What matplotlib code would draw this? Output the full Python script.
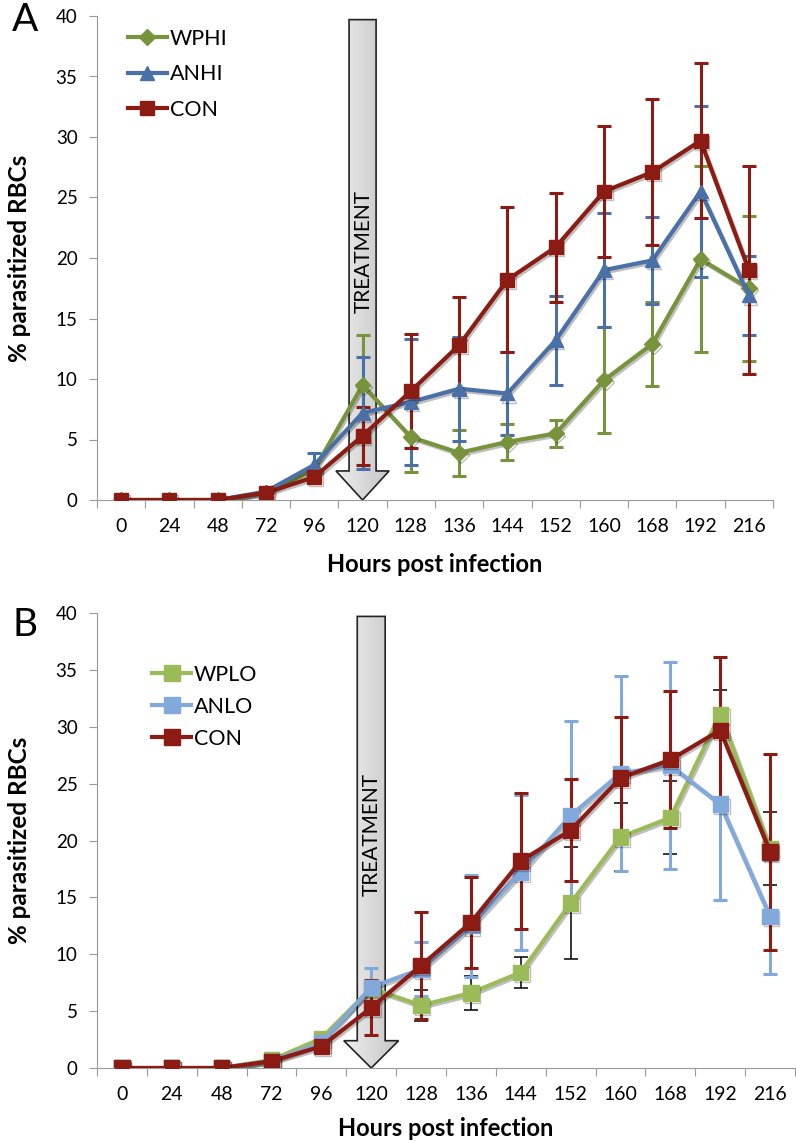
import numpy as np
import matplotlib
matplotlib.use("Agg")
import matplotlib.pyplot as plt
import matplotlib.patheffects as pe
from matplotlib.lines import Line2D
from matplotlib.patches import Polygon
from matplotlib.colors import LinearSegmentedColormap

plt.rcParams["font.family"] = ["Lato", "DejaVu Sans"]

# hours post infection (categorical axis)
hours = ["0", "24", "48", "72", "96", "120", "128", "136", "144", "152", "160", "168", "192", "216"]
treatment_hour = "120"

# panel A
wphi = [0, 0, 0, 0.6, 2.5, 9.5, 5.2, 3.9, 4.8, 5.5, 9.9, 12.9, 19.9, 17.5]
wphi_err = [0, 0, 0, 0, 0, 4.1, 2.9, 1.9, 1.5, 1.1, 4.4, 3.5, 7.7, 6.0]
anhi = [0, 0, 0, 0.7, 2.9, 7.2, 8.1, 9.2, 8.8, 13.2, 19.0, 19.8, 25.5, 16.9]
anhi_err = [0, 0, 0, 0, 1.0, 4.6, 5.2, 4.3, 3.4, 3.7, 4.7, 3.6, 7.1, 3.3]
con = [0, 0, 0, 0.6, 1.9, 5.3, 9.0, 12.8, 18.2, 20.9, 25.5, 27.1, 29.7, 19.0]
con_err = [0, 0, 0, 0, 0, 2.4, 4.7, 4.0, 6.0, 4.5, 5.4, 6.0, 6.4, 8.6]

# panel B
wplo = [0, 0, 0, 0.7, 2.6, 7.0, 5.5, 6.6, 8.4, 14.5, 20.3, 22.0, 31.1, 19.3]
wplo_err = [0, 0, 0, 0, 0, 0.5, 1.4, 1.5, 1.4, 4.9, 3.0, 3.2, 2.1, 3.2]
anlo = [0, 0, 0, 0.6, 2.2, 7.1, 8.7, 12.5, 17.2, 22.2, 25.9, 26.6, 23.2, 13.3]
anlo_err = [0, 0, 0, 0, 0, 1.7, 2.4, 4.5, 6.8, 8.3, 8.6, 9.1, 8.4, 5.0]

GREEN_DK = "#77933C"
BLUE_DK = "#4A70A8"
RED = "#8C1C13"
GREEN_LT = "#9BBB59"
BLUE_LT = "#82A9DC"

W, H = 796, 1143
shadow = [pe.SimpleLineShadow(offset=(1.2, -1.5), shadow_color="k", alpha=0.25), pe.Normal()]


def draw_series(ax, y, err, color, marker, label, ms=10, ecolor=None, elw=2.2):
    x = np.arange(len(hours))
    line = ax.errorbar(x, y, yerr=err, color=color, marker=marker, markersize=ms,
                       lw=3, elinewidth=elw, capsize=5, capthick=elw,
                       ecolor=ecolor or color, zorder=3)
    line[0].set_path_effects(shadow)
    return Line2D([], [], color=color, marker=marker, markersize=ms, lw=3, label=label)


def draw_treatment(ax, top):
    xc = hours.index(treatment_hour)
    sw, hw, hb = 0.28, 0.55, 2.4
    pts = [(xc - sw, top), (xc + sw, top), (xc + sw, hb), (xc + hw, hb), (xc, 0),
           (xc - hw, hb), (xc - sw, hb)]
    poly = Polygon(pts, closed=True, facecolor="none", edgecolor="#222222", lw=1.2, zorder=2)
    ax.add_patch(poly)
    cmap = LinearSegmentedColormap.from_list("g", ["#eeeeee", "#d9d9d9", "#c4c4c4"])
    im = ax.imshow(np.linspace(0, 1, 256).reshape(1, -1), extent=[xc - hw, xc + hw, 0, top],
                   cmap=cmap, aspect="auto", zorder=1.5)
    im.set_clip_path(poly)
    ax.text(xc + 0.02, 20.5, "TREATMENT", rotation=90, ha="center", va="center",
            fontsize=15, zorder=2.5)


def style_axes(ax, ylabel_x, xlabel_y):
    ax.set_xlim(-0.5, len(hours) - 0.5)
    ax.set_ylim(0, 40)
    ax.set_yticks(range(0, 41, 5))
    ax.set_xticks(np.arange(len(hours) + 1) - 0.5)
    ax.set_xticklabels([])
    ax.set_xticks(np.arange(len(hours)), minor=True)
    ax.set_xticklabels(hours, minor=True)
    ax.tick_params(axis="x", which="major", length=6, color="#999999", direction="out")
    ax.tick_params(axis="x", which="minor", length=0, pad=13, labelsize=14)
    ax.tick_params(axis="y", length=6, color="#999999", pad=8, labelsize=13.5)
    for s in ("top", "right"):
        ax.spines[s].set_visible(False)
    for s in ("left", "bottom"):
        ax.spines[s].set_color("#999999")
    ax.set_ylabel("% parasitized RBCs", fontsize=17.5, fontweight="bold")
    ax.yaxis.set_label_coords(ylabel_x, 0.5)
    ax.set_xlabel("Hours post infection", fontsize=17, fontweight="bold")
    ax.xaxis.set_label_coords(0.5, xlabel_y)
    ax.xaxis.label.set_va("center")


def add_legend(ax, handles, anchor, spacing):
    ax.legend(handles=handles, loc="upper left", bbox_to_anchor=anchor, frameon=False,
              fontsize=15.5, handlelength=1.8, handletextpad=0.15, labelspacing=spacing,
              borderpad=0, borderaxespad=0)


fig = plt.figure(figsize=(W / 100, H / 100), dpi=100)

# panel A: y=40 at 16 px, y=0 at 500 px
ax_a = fig.add_axes([97 / W, 1 - 500 / H, 676 / W, 484 / H])
draw_treatment(ax_a, 39.7)
h_a = [draw_series(ax_a, wphi, wphi_err, GREEN_DK, "D", "WPHI", ms=8),
       draw_series(ax_a, anhi, anhi_err, BLUE_DK, "^", "ANHI", ms=10),
       draw_series(ax_a, con, con_err, RED, "s", "CON", ms=10)]
style_axes(ax_a, (31 - 97) / 676, -(564 - 500) / 484)
add_legend(ax_a, h_a, (0.046, (500 - 29) / 484), 0.72)

# panel B: y=40 at 613 px, y=0 at 1068 px
ax_b = fig.add_axes([97 / W, 1 - 1068 / H, 698 / W, 455 / H])
draw_treatment(ax_b, 39.7)
h_b = [draw_series(ax_b, wplo, wplo_err, GREEN_LT, "s", "WPLO", ms=11, ecolor="black", elw=1.1),
       draw_series(ax_b, anlo, anlo_err, BLUE_LT, "s", "ANLO", ms=11),
       draw_series(ax_b, con, con_err, RED, "s", "CON", ms=11)]
style_axes(ax_b, (31 - 97) / 698, -(1128 - 1068) / 455)
add_legend(ax_b, h_b, (0.079, (1068 - 665) / 455), 0.55)

fig.text(12 / W, 1 - 20 / H, "A", fontsize=28, va="center", ha="left")
fig.text(12 / W, 1 - 625 / H, "B", fontsize=28, va="center", ha="left")

fig.savefig("out.png", dpi=100)
